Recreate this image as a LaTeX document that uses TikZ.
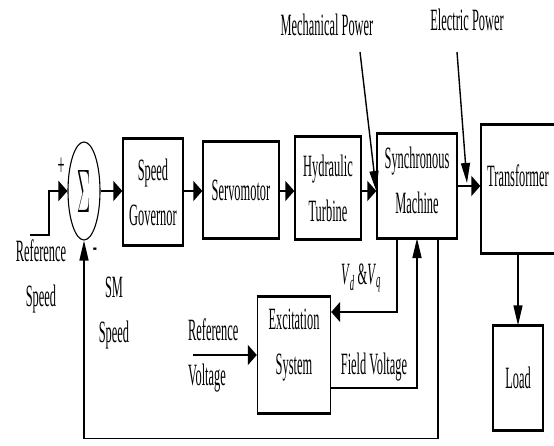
\documentclass[tikz,border=0pt]{standalone}
\usepackage{fontspec}
\setmainfont[FakeStretch=0.40]{Liberation Serif}
\usepackage{graphicx}
\usetikzlibrary{arrows.meta,shapes.geometric}

\begin{document}
\begin{tikzpicture}[
  x=1pt, y=-1pt,
  font=\fontsize{31}{45}\selectfont,
  box/.style={draw, line width=1.4pt, align=center, inner sep=0pt},
  txt/.style={align=center, inner sep=0pt},
  sumnode/.style={draw, ellipse, line width=1.1pt, minimum width=32pt,
    minimum height=98pt, inner sep=0pt},
  harrow/.style={-{Triangle[length=9pt,width=20pt]}, line width=2.6pt},
  varrow/.style={-{Triangle[length=20pt,width=9pt]}, line width=1.4pt},
  rim/.style={line width=3pt}
]
\useasboundingbox (0,0) rectangle (554,446);

% blocks of the loop
\node[sumnode] (sum) at (84,191) {\resizebox{13pt}{42pt}{$\Sigma$}};
\node[box, minimum width=60pt, minimum height=105pt] (gov) at (153,192) {Speed\\Governor};
\node[box, minimum width=76pt, minimum height=95pt] (servo) at (241,190) {Servomotor};
\node[box, minimum width=66pt, minimum height=101pt] (turb) at (328,188) {Hydraulic\\Turbine};
\node[box, minimum width=80pt, minimum height=103pt, text depth=12pt] (sm) at (417,186) {Synchronous\\Machine};
\node[box, minimum width=74pt, minimum height=127pt, text depth=27pt] (trans) at (518,189) {Transformer};
\node[box, minimum width=50pt, minimum height=104pt] (load) at (518,378) {Load};
\node[box, minimum width=73pt, minimum height=116pt, text depth=26pt] (exc) at (294,355) {Excitation\\System};

% labels
\node[txt] (plus) at (61,167) {+};
\node[txt] (minus) at (95,252) {-};
\node[txt] (refspeed) at (41,276) {Reference\\Speed};
\node[txt] (smspeed) at (114,313) {SM\\Speed};
\node[txt, align=left, anchor=west] (refvolt) at (188,355) {Reference\\Voltage};
\node[txt] (vdvq) at (361,278) {\textit{V}\textsubscript{\textit{d}} \&\textit{V}\textsubscript{\textit{q}}};
\node[txt] (fieldv) at (374,367) {Field Voltage};
\node[txt] (mech) at (327,25) {Mechanical Power};
\node[txt] (elec) at (467,20) {Electric Power};

\coordinate (refin) at (30,235);
\coordinate (mpin) at (360,52);
\coordinate (epin) at (457,52);
\coordinate (eptip) at (467,183);
\coordinate (rvin) at (193,355);

% connections
\draw[harrow] (refin) -- ++(19,0) |- (sum.west);
\draw[harrow] (sum.east) -- (gov.west |- sum.east);
\draw[harrow] (gov.east |- sum.east) -- (servo.west |- sum.east);
\draw[harrow] (servo.east |- sum.east) -- (turb.west |- sum.east);
\draw[harrow] (turb.east |- sum.east) -- (sm.west |- sum.east);
\draw[harrow] (sm.east) -- (trans.west |- sm.east);
\draw[varrow] (mpin) -- (sm.west |- sum.east);
\draw[varrow] (epin) -- (eptip);
\draw[varrow] (trans) -- (load);
\draw[harrow, line width=1.8pt] ([xshift=-20pt]sm.south) |- ([yshift=43pt]exc.east);
\draw[varrow, line width=1.8pt] ([yshift=-33pt]exc.east) -| (sm.south);
\draw[varrow] ([xshift=21pt]sm.south) -- ++(0,200) -| (sum.south);
\draw[harrow] (rvin) -- (exc.west);

% heavier top and bottom edges
\foreach \b in {gov,servo,turb,sm,trans,load,exc}
  \draw[rim] (\b.north west) -- (\b.north east) (\b.south west) -- (\b.south east);
\end{tikzpicture}
\end{document}
